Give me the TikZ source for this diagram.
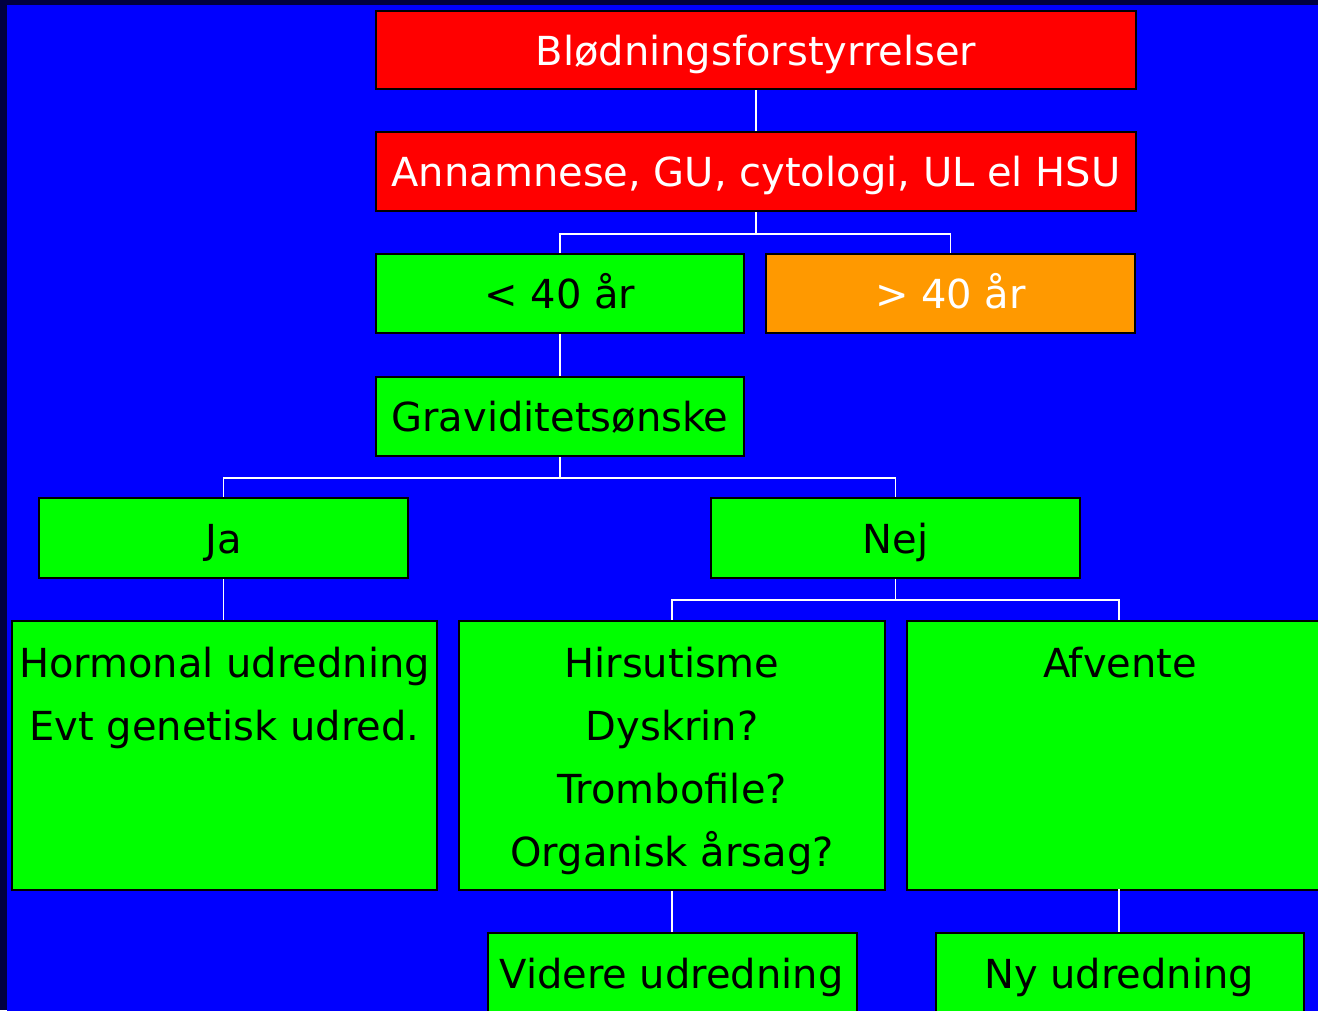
\documentclass[tikz,border=0pt]{standalone}
\usepackage{fontspec}
\setmainfont{DejaVu Sans}
\definecolor{bgblue}{HTML}{0000FF}
\definecolor{navy}{HTML}{000040}
\definecolor{bred}{HTML}{FF0000}
\definecolor{bgreen}{HTML}{00FF00}
\definecolor{borange}{HTML}{FF9900}
\tikzset{
  box/.style={draw=black, line width=2pt, rectangle, inner sep=0pt, font=\fontsize{40}{63}\selectfont, align=center},
  oneline/.style={text height=38pt, text depth=8pt},
  redbox/.style={box, oneline, fill=bred, text=white},
  greenbox/.style={box, oneline, fill=bgreen, text=black},
  tallbox/.style={box, fill=bgreen, text=black},
  orangebox/.style={box, oneline, fill=borange, text=white},
  label/.style={font=\fontsize{40}{63}\selectfont, oneline, inner sep=0pt},
  conn/.style={draw=white, line width=1.5pt}
}
\newcommand{\topbox}[3]{\begin{minipage}[t][#2pt][t]{#1pt}\centering\vspace{26pt}#3\end{minipage}}
\begin{document}
\begin{tikzpicture}[x=1pt,y=-1pt]
\useasboundingbox (0,0) rectangle (1318,1010);
\clip (0,0) rectangle (1318,1010);
\fill[navy] (0,0) rectangle (1318,1010);
\fill[bgblue] (7,5) rectangle (1330,1020);
% row 1-2
\node[redbox, minimum width=760pt, minimum height=78pt] (t) at (756,50) {Blødningsforstyrrelser};
\node[redbox, minimum width=760pt, minimum height=79pt] (a) at (756,171.5) {Annamnese, GU, cytologi, UL el HSU};
% row 3
\node[greenbox, minimum width=368pt, minimum height=79pt] (u) at (560,293.5) {< 40 år};
\node[orangebox, minimum width=369pt, minimum height=79pt] (o) at (950.5,293.5) {> 40 år};
% row 4
\node[greenbox, minimum width=368pt, minimum height=79pt] (g) at (560,416.5) {Graviditetsønske};
% row 5
\node[greenbox, minimum width=369pt, minimum height=80pt] (ja) at (223.5,538) {Ja};
\node[greenbox, minimum width=369pt, minimum height=80pt] (nej) at (895.5,538) {Nej};
% row 6
\node[tallbox, anchor=north west] (h) at (11,620) {\topbox{425}{269}{Hormonal udredning\\Evt genetisk udred.}};
\node[tallbox, anchor=north west] (hi) at (458,620) {\topbox{426}{269}{Hirsutisme\\Dyskrin?\\Trombofile?\\Organisk årsag?}};
\node[tallbox, anchor=north west] (af) at (906,620) {\topbox{426}{269}{Afvente}};
% row 7
\node[tallbox, minimum width=369pt, minimum height=100pt, anchor=north west] (v) at (487,932) {};
\node[label] (vt) at (671.5,973) {Videre udredning};
\node[tallbox, minimum width=368pt, minimum height=100pt, anchor=north west] (ny) at (935,932) {};
\node[label] (nyt) at (1119,973) {Ny udredning};
% connectors
\draw[conn] (t.south) -- (a.north);
\draw[conn] (a.south) -- ++(0,22) -| (u.north);
\draw[conn] (a.south) -- ++(0,22) -| (o.north);
\draw[conn] (u.south) -- (g.north);
\draw[conn] (g.south) -- ++(0,21) -| (ja.north);
\draw[conn] (g.south) -- ++(0,21) -| (nej.north);
\draw[conn] (ja.south) -- (ja.south |- h.north);
\draw[conn] (nej.south) -- ++(0,21) -| (hi.north);
\draw[conn] (nej.south) -- ++(0,21) -| (1119,620) coordinate (afn);
\draw[conn] (hi.south) -- (hi.south |- v.north);
\draw[conn] (1119,889) coordinate (afs) -- (afs |- ny.north);
\end{tikzpicture}
\end{document}
